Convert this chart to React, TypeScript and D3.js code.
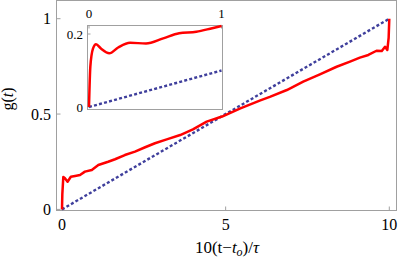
import React from "react";
import * as d3 from "d3";

// main curve g(t)
const mainX = [0, 0.01, 0.04, 0.09, 0.17, 0.27, 0.4, 0.55, 0.7, 0.91, 1.11, 1.41, 1.62, 1.92, 2.23, 2.54, 2.84, 3.2, 3.61, 4.0, 4.42, 4.89, 5.45, 6.06, 6.35, 6.87, 7.37, 7.88, 8.39, 8.8, 9.1, 9.36, 9.61, 9.77, 9.87, 9.94, 9.98, 10];
const mainY = [0, 0.08, 0.17, 0.163, 0.145, 0.171, 0.175, 0.18, 0.198, 0.207, 0.233, 0.25, 0.263, 0.285, 0.303, 0.326, 0.347, 0.367, 0.39, 0.42, 0.46, 0.487, 0.53, 0.572, 0.59, 0.626, 0.67, 0.708, 0.748, 0.775, 0.796, 0.81, 0.832, 0.83, 0.853, 0.836, 0.9, 1.0];

// inset (zoom on the first unit)
const insetX = [0, 0.01, 0.03, 0.053, 0.09, 0.153, 0.22, 0.31, 0.43, 0.56, 0.68, 0.81, 0.93, 1.0];
const insetY = [0, 0.11, 0.16, 0.172, 0.16, 0.147, 0.163, 0.176, 0.174, 0.188, 0.202, 0.206, 0.216, 0.222];

// reference line
const refX = [0, 10];
const refY = [0, 1];
const insetRefX = [0, 1];
const insetRefY = [0, 0.1];

const xTicks = [0, 5, 10];
const yTicks = [0, 0.5, 1];
const insetXTicks = [0, 1];
const insetYTicks = [0, 0.2];

const RED = "#ff0000";
const BLUE = "#3f3f9c";
const FRAME = "#a0a0a0";
const FONT = "Liberation Serif, serif";

type Pt = [number, number];
const zip = (xs: number[], ys: number[]): Pt[] => xs.map((x, i) => [x, ys[i]]);

export default function App() {
  const width = 399;
  const height = 262;

  // main frame
  const frame = { left: 56.5, right: 396.5, top: 0.5, bottom: 210.5 };
  const x = d3.scaleLinear().domain([0, 10]).range([62, 389.3]);
  const y = d3.scaleLinear().domain([0, 1]).range([209.4, 18.7]);

  // inset frame
  const inFrame = { left: 87.5, right: 222.5, top: 25.5, bottom: 109.5 };
  const ix = d3.scaleLinear().domain([0, 1]).range([89, 221.5]);
  const iy = d3.scaleLinear().domain([0, 0.2]).range([107, 34]);

  const mainLine = d3.line<Pt>().x((d) => x(d[0])).y((d) => y(d[1]));
  const insetLine = d3
    .line<Pt>()
    .x((d) => ix(d[0]))
    .y((d) => iy(d[1]))
    .curve(d3.curveMonotoneX);
  const insetStraight = d3.line<Pt>().x((d) => ix(d[0])).y((d) => iy(d[1]));

  return (
    <svg
      width={width}
      height={height}
      style={{ position: "absolute", left: 0, top: 0, background: "#fff", fontFamily: FONT }}
    >
      {/* main frame */}
      <rect
        x={frame.left}
        y={frame.top}
        width={frame.right - frame.left}
        height={frame.bottom - frame.top}
        fill="none"
        stroke={FRAME}
      />
      {xTicks.map((t) => (
        <g key={"xt" + t}>
          <line x1={x(t)} x2={x(t)} y1={frame.bottom} y2={frame.bottom - 4} stroke={FRAME} />
          <text x={x(t)} y={230} fontSize={16} textAnchor="middle">
            {t}
          </text>
        </g>
      ))}
      {yTicks.map((t) => (
        <g key={"yt" + t}>
          <line x1={frame.left} x2={frame.left + 4} y1={y(t)} y2={y(t)} stroke={FRAME} />
          <text x={51} y={y(t) + 5.5} fontSize={16} textAnchor="end">
            {t}
          </text>
        </g>
      ))}

      {/* curves */}
      <path
        d={mainLine(zip(refX, refY)) || ""}
        fill="none"
        stroke={BLUE}
        strokeWidth={2.4}
        strokeDasharray="3,2.2"
      />
      <path d={mainLine(zip(mainX, mainY)) || ""} fill="none" stroke={RED} strokeWidth={2.5} strokeLinejoin="round" />

      {/* inset */}
      <rect
        x={inFrame.left}
        y={inFrame.top}
        width={inFrame.right - inFrame.left}
        height={inFrame.bottom - inFrame.top}
        fill="#fff"
        stroke={FRAME}
      />
      {insetXTicks.map((t) => (
        <g key={"ixt" + t}>
          <line x1={ix(t)} x2={ix(t)} y1={inFrame.top} y2={inFrame.top + 3} stroke={FRAME} />
          <text x={ix(t)} y={18} fontSize={13} textAnchor="middle">
            {t}
          </text>
        </g>
      ))}
      {insetYTicks.map((t) => (
        <g key={"iyt" + t}>
          <line x1={inFrame.left} x2={inFrame.left + 3} y1={iy(t)} y2={iy(t)} stroke={FRAME} />
          <text x={83} y={iy(t) + 4.5} fontSize={13} textAnchor="end">
            {t}
          </text>
        </g>
      ))}
      <path
        d={insetStraight(zip(insetRefX, insetRefY)) || ""}
        fill="none"
        stroke={BLUE}
        strokeWidth={2.4}
        strokeDasharray="3,2.2"
      />
      <path d={insetLine(zip(insetX, insetY)) || ""} fill="none" stroke={RED} strokeWidth={2.5} />

      {/* axis labels */}
      <text x={227} y={253} fontSize={17} textAnchor="middle">
        10(t−<tspan fontStyle="italic">t</tspan>
        <tspan fontStyle="italic" fontSize={12} dy={3}>o</tspan>
        <tspan dy={-3}>)/</tspan>
        <tspan fontStyle="italic">τ</tspan>
      </text>
      <text transform="translate(13,99) rotate(-90)" fontSize={16} textAnchor="middle">
        g(<tspan fontStyle="italic">t</tspan>)
      </text>
    </svg>
  );
}
